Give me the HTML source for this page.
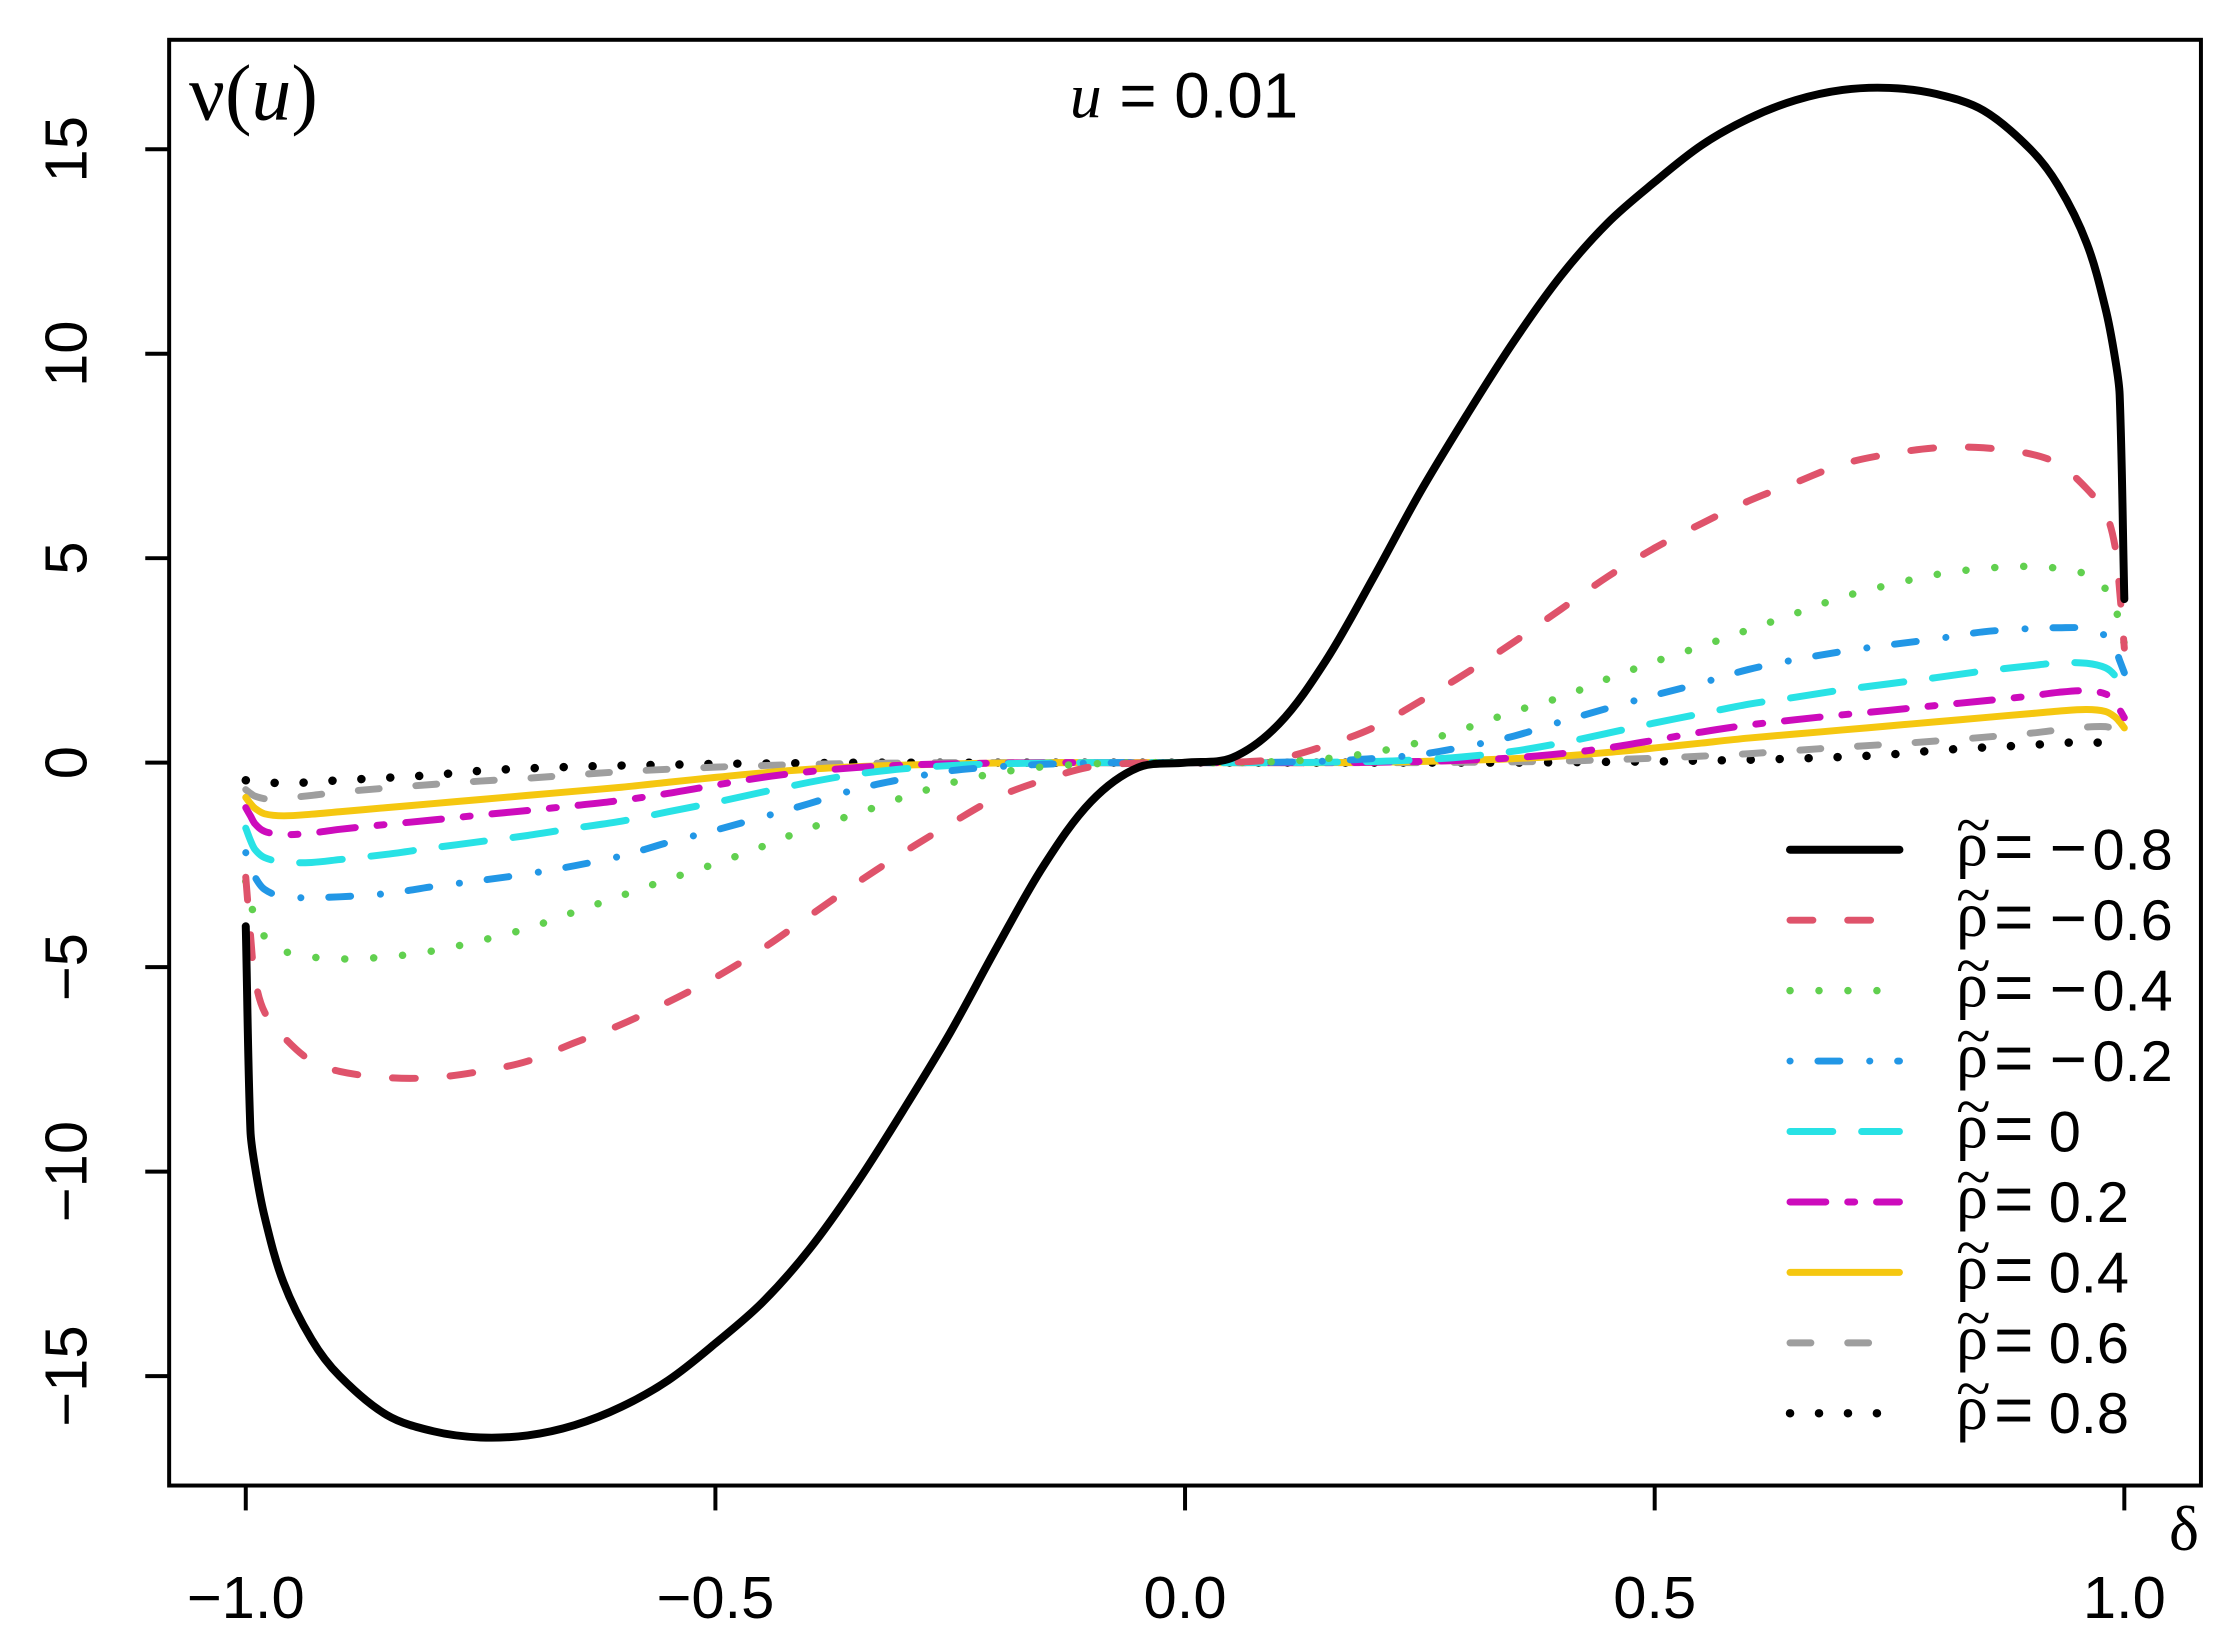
<!DOCTYPE html>
<html><head><meta charset="utf-8">
<style>
html,body{margin:0;padding:0;background:#fff;}
svg{display:block;}
text{font-family:"Liberation Sans",sans-serif;fill:#000;}
</style></head>
<body>
<svg id="chart" width="2229" height="1647" viewBox="0 0 2229 1647" xmlns="http://www.w3.org/2000/svg">
<rect x="0" y="0" width="2229" height="1647" fill="#fff"/>
<g transform="scale(0.995)">
<g id="series"></g>
<rect x="170" y="40" width="2042" height="1453" fill="none" stroke="#000" stroke-width="4"/>
<g id="axes"></g>
<text x="190" y="120" style="font-family:'Liberation Serif',serif;font-size:80px;">ν(<tspan font-style="italic">u</tspan>)</text>
<text x="1190" y="118" text-anchor="middle" style="font-size:64px;"><tspan style="font-family:'Liberation Serif',serif;font-style:italic;">u</tspan> = 0.01</text>
<text x="2195" y="1558" text-anchor="middle" style="font-family:'Liberation Serif',serif;font-size:64px;">δ</text>
<g id="legend"></g>
</g>
</svg>
<script>
const deltas = [-1,-0.995,-0.99,-0.98,-0.96,-0.93,-0.9,-0.85,-0.8,-0.75,-0.7,-0.65,-0.6,-0.55,-0.5,-0.45,-0.4,-0.35,-0.3,-0.25,-0.2,-0.15,-0.1,-0.05,
  0,0.05,0.1,0.15,0.2,0.25,0.3,0.35,0.4,0.45,0.5,0.55,0.6,0.65,0.7,0.75,0.8,0.85,0.9,0.93,0.96,0.98,0.99,0.995,1];
const vNeg08 = [-4.0,-9.0,-9.9,-11.1,-12.7,-14.1,-15.0,-15.95,-16.35,-16.5,-16.45,-16.2,-15.75,-15.1,-14.2,-13.2,-11.9,-10.3,-8.5,-6.6,-4.5,-2.5,-0.95,-0.12,
  0,0.12,0.95,2.5,4.5,6.6,8.5,10.3,11.9,13.2,14.2,15.1,15.75,16.2,16.45,16.5,16.35,15.95,15.0,14.1,12.7,11.1,9.9,9.0,4.0];
const vNeg06 = [-2.8,-4.2,-5.3,-6.1,-6.7,-7.3,-7.55,-7.7,-7.7,-7.55,-7.3,-6.85,-6.4,-5.85,-5.25,-4.55,-3.75,-2.95,-2.2,-1.5,-0.85,-0.42,-0.1,-0.01,
  0,0.01,0.1,0.42,0.85,1.5,2.2,2.95,3.75,4.55,5.25,5.85,6.4,6.85,7.3,7.55,7.7,7.7,7.55,7.3,6.7,6.1,5.3,4.2,2.8];
const vNeg04 = [-2.9,-3.4,-3.8,-4.25,-4.6,-4.75,-4.8,-4.75,-4.6,-4.35,-4.05,-3.65,-3.25,-2.85,-2.47,-2.05,-1.6,-1.25,-0.85,-0.5,-0.25,-0.1,-0.03,0,
  0,0,0.03,0.1,0.25,0.5,0.85,1.25,1.6,2.05,2.47,2.85,3.25,3.65,4.05,4.35,4.6,4.75,4.8,4.75,4.6,4.25,3.8,3.4,2.9];
const vNeg02 = [-2.2,-2.5,-2.8,-3.1,-3.28,-3.3,-3.28,-3.2,-3.03,-2.88,-2.72,-2.52,-2.28,-1.95,-1.65,-1.33,-1.0,-0.65,-0.4,-0.2,-0.1,-0.04,-0.01,0,
  0,0,0.01,0.04,0.1,0.2,0.4,0.65,1.0,1.33,1.65,1.95,2.28,2.52,2.72,2.88,3.03,3.2,3.28,3.3,3.28,3.1,2.8,2.5,2.2];
const vZero = [-1.6,-1.9,-2.13,-2.32,-2.43,-2.44,-2.37,-2.24,-2.08,-1.93,-1.78,-1.6,-1.43,-1.2,-0.97,-0.72,-0.48,-0.28,-0.15,-0.07,-0.03,-0.01,0,0,
  0,0,0,0.01,0.03,0.07,0.15,0.28,0.48,0.72,0.97,1.2,1.43,1.6,1.78,1.93,2.08,2.24,2.37,2.44,2.43,2.32,2.13,1.9,1.6];
const vPos02 = [-1.1,-1.3,-1.5,-1.68,-1.76,-1.72,-1.63,-1.51,-1.4,-1.28,-1.17,-1.05,-0.92,-0.75,-0.55,-0.36,-0.22,-0.12,-0.06,-0.03,-0.01,0,0,0,
  0,0,0,0,0.01,0.03,0.06,0.12,0.22,0.36,0.55,0.75,0.92,1.05,1.17,1.28,1.4,1.51,1.63,1.72,1.76,1.68,1.5,1.3,1.1];
const vPos04 = [-0.85,-1.0,-1.12,-1.25,-1.3,-1.26,-1.2,-1.1,-1.0,-0.9,-0.8,-0.7,-0.6,-0.48,-0.36,-0.25,-0.16,-0.1,-0.06,-0.03,-0.01,0,0,0,
  0,0,0,0,0.01,0.03,0.06,0.1,0.16,0.25,0.36,0.48,0.6,0.7,0.8,0.9,1.0,1.1,1.2,1.26,1.3,1.25,1.12,1.0,0.85];
const vPos06 = [-0.66,-0.75,-0.82,-0.88,-0.87,-0.8,-0.72,-0.62,-0.53,-0.45,-0.38,-0.3,-0.22,-0.16,-0.11,-0.07,-0.04,-0.02,-0.01,0,0,0,0,0,
  0,0,0,0,0,0,0.01,0.02,0.04,0.07,0.11,0.16,0.22,0.3,0.38,0.45,0.53,0.62,0.72,0.8,0.87,0.88,0.82,0.75,0.66];
const vPos08 = [-0.43,-0.45,-0.46,-0.48,-0.5,-0.48,-0.43,-0.37,-0.3,-0.2,-0.14,-0.1,-0.07,-0.05,-0.03,-0.02,-0.01,0,0,0,0,0,0,0,
  0,0,0,0,0,0,0,0,0.01,0.02,0.03,0.05,0.07,0.1,0.14,0.2,0.3,0.37,0.43,0.48,0.5,0.48,0.46,0.45,0.43];
const legendSigns = ["−","−","−","−","","","","",""];
const legendNums = ["0.8","0.6","0.4","0.2","0","0.2","0.4","0.6","0.8"];
const xTicks = [-1.0,-0.5,0.0,0.5,1.0];
const xTickLabels = ["−1.0","−0.5","0.0","0.5","1.0"];
const yTicks = [-15,-10,-5,0,5,10,15];
const yTickLabels = ["−15","−10","−5","0","5","10","15"];

const NS = "http://www.w3.org/2000/svg";
const X = d => 1191 + d * 944;
const Y = v => 766.5 - v * 41.1;

const styles = [
  {c:"#000000", w:8, dash:null},
  {c:"#DF536B", w:7, dash:"23 35"},
  {c:"#61D04F", w:7.5, dash:"0.1 29"},
  {c:"#2297E6", w:7, dash:"0.1 28 22 30"},
  {c:"#28E2E5", w:7, dash:"43 29"},
  {c:"#CD0BBC", w:7, dash:"36 22 7 22"},
  {c:"#F5C710", w:7, dash:null},
  {c:"#9E9E9E", w:7, dash:"21 37"},
  {c:"#000000", w:8.5, dash:"0.1 29"}
];
const seriesVals = [vNeg08,vNeg06,vNeg04,vNeg02,vZero,vPos02,vPos04,vPos06,vPos08];
const seriesNames = ["series-rho-neg0.8","series-rho-neg0.6","series-rho-neg0.4","series-rho-neg0.2","series-rho-0","series-rho-0.2","series-rho-0.4","series-rho-0.6","series-rho-0.8"];

function pathFrom(vals){
  const p = deltas.map((d,i)=>[X(d),Y(vals[i])]);
  let s = "M"+p[0][0].toFixed(1)+","+p[0][1].toFixed(1);
  for(let i=0;i<p.length-1;i++){
    const p0=p[Math.max(i-1,0)],p1=p[i],p2=p[i+1],p3=p[Math.min(i+2,p.length-1)];
    const d01=Math.hypot(p1[0]-p0[0],p1[1]-p0[1])||1, d12=Math.hypot(p2[0]-p1[0],p2[1]-p1[1])||1, d23=Math.hypot(p3[0]-p2[0],p3[1]-p2[1])||1;
    const t1=d12/(d01+d12), t2=d12/(d12+d23);
    const c1=[p1[0]+(p2[0]-p0[0])*t1/3,p1[1]+(p2[1]-p0[1])*t1/3];
    const c2=[p2[0]-(p3[0]-p1[0])*t2/3,p2[1]-(p3[1]-p1[1])*t2/3];
    s+=" C"+c1[0].toFixed(1)+","+c1[1].toFixed(1)+" "+c2[0].toFixed(1)+","+c2[1].toFixed(1)+" "+p2[0].toFixed(1)+","+p2[1].toFixed(1);
  }
  return s;
}
const sg = document.getElementById("series");
for(let k=seriesVals.length-1;k>=0;k--){
  const el=document.createElementNS(NS,"path");
  el.setAttribute("d",pathFrom(seriesVals[k]));
  el.setAttribute("fill","none");
  el.setAttribute("stroke",styles[k].c);
  el.setAttribute("stroke-width",styles[k].w);
  el.setAttribute("stroke-linecap","round");
  el.setAttribute("stroke-linejoin","round");
  if(styles[k].dash) el.setAttribute("stroke-dasharray",styles[k].dash);
  
  
  sg.appendChild(el);
}
const ax=document.getElementById("axes");
xTicks.forEach((t,i)=>{
  const l=document.createElementNS(NS,"line");
  l.setAttribute("x1",X(t));l.setAttribute("x2",X(t));
  l.setAttribute("y1",1493);l.setAttribute("y2",1518);
  l.setAttribute("stroke","#000");l.setAttribute("stroke-width",4);
  
  
  ax.appendChild(l);
  const tx=document.createElementNS(NS,"text");
  tx.setAttribute("x",X(t));tx.setAttribute("y",1626);
  tx.setAttribute("text-anchor","middle");tx.setAttribute("font-size","60");
  tx.textContent=xTickLabels[i];
  
  
  ax.appendChild(tx);
});
yTicks.forEach((t,i)=>{
  const l=document.createElementNS(NS,"line");
  l.setAttribute("x1",146);l.setAttribute("x2",170);
  l.setAttribute("y1",Y(t));l.setAttribute("y2",Y(t));
  l.setAttribute("stroke","#000");l.setAttribute("stroke-width",4);
  
  
  ax.appendChild(l);
  const tx=document.createElementNS(NS,"text");
  tx.setAttribute("transform","translate(87,"+Y(t)+") rotate(-90)");
  tx.setAttribute("text-anchor","middle");tx.setAttribute("font-size","60");
  tx.textContent=yTickLabels[i];
  
  
  ax.appendChild(tx);
});
const lg=document.getElementById("legend");
legendNums.forEach((num,k)=>{
  const y=854+k*70.8;
  const l=document.createElementNS(NS,"line");
  l.setAttribute("x1",1799);l.setAttribute("x2",1909);
  l.setAttribute("y1",y);l.setAttribute("y2",y);
  l.setAttribute("stroke",styles[k].c);l.setAttribute("stroke-width",styles[k].w);
  l.setAttribute("stroke-linecap","round");
  if(styles[k].dash) l.setAttribute("stroke-dasharray",styles[k].dash);
  
  
  lg.appendChild(l);
  const rho=document.createElementNS(NS,"text");
  rho.setAttribute("x",1966);rho.setAttribute("y",y+16);
  rho.setAttribute("font-size","64");
  rho.setAttribute("style","font-family:'Liberation Serif',serif;");
  rho.textContent="ρ";
  
  
  lg.appendChild(rho);
  const tl=document.createElementNS(NS,"text");
  tl.setAttribute("x",1966);tl.setAttribute("y",y-4);
  tl.setAttribute("font-size","64");
  tl.setAttribute("style","font-family:'Liberation Serif',serif;");
  tl.textContent="~";
  
  
  lg.appendChild(tl);
  const eq=document.createElementNS(NS,"text");
  eq.setAttribute("x",2004);eq.setAttribute("y",y+20);
  eq.setAttribute("font-size","68");
  eq.textContent="=";
  
  
  lg.appendChild(eq);
  if(legendSigns[k]){
    const mn=document.createElementNS(NS,"text");
    mn.setAttribute("x",2060);mn.setAttribute("y",y+20);
    mn.setAttribute("font-size","64");
    mn.textContent=legendSigns[k];
    
    
    lg.appendChild(mn);
  }
  const tx=document.createElementNS(NS,"text");
  tx.setAttribute("x",legendSigns[k]?2103:2059);tx.setAttribute("y",y+20);
  tx.setAttribute("font-size","58");
  tx.textContent=num;
  
  
  lg.appendChild(tx);
});
</script>
</body></html>
